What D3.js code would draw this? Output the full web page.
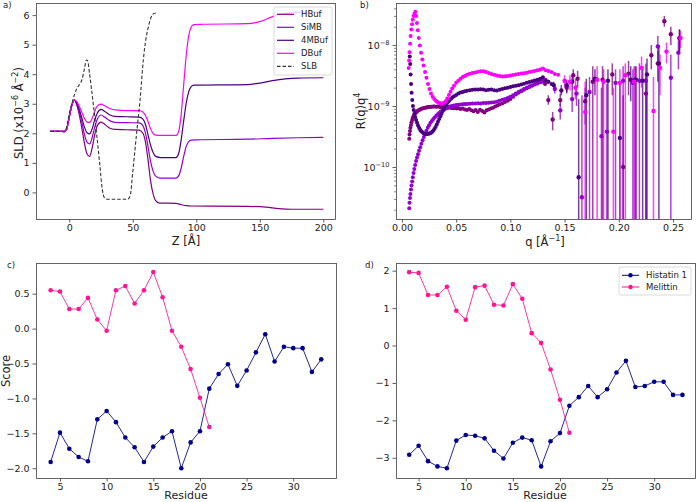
<!DOCTYPE html>
<html>
<head>
<meta charset="utf-8">
<script src="https://cdn.jsdelivr.net/npm/d3@7"></script>
<style>
  body { margin: 0; background: #fff; }
  svg text { font-family: "DejaVu Sans", sans-serif; }
</style>
</head>
<body>
<svg id="fig" width="696" height="502"></svg>
<script>
// ---------- a) SLD profiles: [z, SLD] ----------
const hbufSld = [[-15,2.07],[-8,2.07],[-4,2.06],[-2,2.15],[0,2.55],[2,2.95],[4,3.12],[6,2.95],[8,2.6],[10,2.15],[12,1.65],[14,1.3],[16,1.22],[18,1.5],[20,1.95],[22,2.25],[25,2.38],[28,2.3],[32,2.17],[36,2.13],[45,2.12],[55,2.11],[58,2.0],[60,1.7],[62,1.1],[64,0.4],[66,-0.05],[68,-0.28],[71,-0.36],[84,-0.37],[88,-0.41],[92,-0.45],[96,-0.46],[140,-0.47],[155,-0.5],[165,-0.55],[175,-0.57],[200,-0.57]];
const simbSld = [[-15,2.07],[-8,2.07],[-4,2.06],[-2,2.15],[0,2.55],[2,2.95],[4,3.12],[6,2.98],[8,2.72],[10,2.35],[12,1.95],[14,1.7],[16,1.64],[18,1.85],[20,2.2],[22,2.47],[25,2.62],[28,2.54],[32,2.42],[36,2.37],[45,2.36],[55,2.35],[58,2.25],[60,2.0],[62,1.55],[64,1.05],[66,0.72],[68,0.55],[72,0.48],[84,0.48],[86,0.55],[88,0.8],[90,1.2],[92,1.55],[94,1.72],[96,1.77],[100,1.78],[140,1.8],[160,1.83],[180,1.85],[200,1.86]];
const mbufSld = [[-15,2.07],[-8,2.07],[-4,2.06],[-2,2.15],[0,2.55],[2,2.95],[4,3.12],[6,3.02],[8,2.8],[10,2.5],[12,2.2],[14,2.02],[16,1.98],[18,2.15],[20,2.45],[22,2.68],[25,2.81],[28,2.74],[32,2.62],[36,2.57],[45,2.56],[55,2.55],[58,2.48],[60,2.3],[62,1.95],[64,1.6],[66,1.35],[68,1.22],[72,1.18],[84,1.18],[86,1.3],[88,1.75],[90,2.4],[92,3.0],[94,3.4],[96,3.58],[98,3.63],[140,3.65],[150,3.7],[160,3.78],[170,3.84],[180,3.87],[200,3.88]];
const dbufSld = [[-15,2.07],[-8,2.07],[-4,2.06],[-2,2.15],[0,2.55],[2,2.95],[4,3.12],[6,3.07],[8,2.9],[10,2.7],[12,2.5],[14,2.38],[16,2.37],[18,2.5],[20,2.75],[22,2.92],[25,2.99],[28,2.93],[32,2.84],[36,2.79],[45,2.77],[55,2.77],[58,2.72],[60,2.6],[62,2.4],[64,2.15],[66,2.0],[68,1.94],[72,1.93],[84,1.93],[86,2.05],[88,2.6],[90,3.6],[92,4.6],[94,5.3],[96,5.6],[98,5.68],[105,5.69],[140,5.71],[150,5.78],[160,5.95],[170,6.06],[180,6.1],[200,6.1]];
const slbSld = [[-15,2.07],[-5,2.07],[-3,2.1],[-1,2.45],[1,2.85],[2,3.0],[4,3.3],[6,3.52],[8,3.65],[10,3.82],[12,4.2],[13.5,4.48],[14.5,4.45],[16,4.0],[17.5,3.5],[19,2.95],[21.5,2.0],[24,0.95],[26,0.1],[27.5,-0.17],[30,-0.23],[46,-0.23],[48,-0.1],[50,0.7],[53,2.0],[55.7,3.12],[58.3,4.48],[60,5.1],[62,5.55],[64,5.88],[66,6.04],[69,6.08]];
const sldNames = ["HBuf", "SiMB", "4MBuf", "DBuf", "SLB"];

// ---------- b) reflectivity R(q)q^4: dense low-q part [q, R] ----------
const hbufRefl = [[0.0067,2.9e-10],[0.0070,3.4e-10],[0.0074,3.9e-10],[0.0078,4.4e-10],[0.0083,4.9e-10],[0.0088,5.4e-10],[0.0094,5.9e-10],[0.0100,6.4e-10],[0.0107,6.8e-10],[0.0114,7.2e-10],[0.0122,7.6e-10],[0.0130,7.9e-10],[0.0139,8.2e-10],[0.0148,8.4e-10],[0.0158,8.6e-10],[0.0168,8.8e-10],[0.0179,9.0e-10],[0.0190,9.1e-10],[0.0202,9.3e-10],[0.0214,9.4e-10],[0.0226,9.5e-10],[0.0238,9.6e-10],[0.0250,9.6e-10],[0.0263,9.7e-10],[0.0276,9.7e-10],[0.0289,9.8e-10],[0.0302,9.8e-10],[0.0316,9.7e-10],[0.0330,9.8e-10],[0.0344,9.7e-10],[0.0358,9.6e-10],[0.0372,9.7e-10],[0.0386,9.6e-10],[0.0400,9.5e-10],[0.0415,9.6e-10],[0.0430,9.4e-10],[0.0445,9.5e-10],[0.0460,9.3e-10],[0.0475,9.2e-10],[0.0490,9.4e-10],[0.0505,9.1e-10],[0.0520,9.2e-10],[0.0540,8.9e-10],[0.0560,9.1e-10],[0.0580,8.8e-10],[0.0600,8.6e-10],[0.0620,8.9e-10],[0.0640,8.5e-10],[0.0660,8.2e-10],[0.0680,8.6e-10],[0.0700,8.0e-10],[0.0720,8.7e-10],[0.0740,8.3e-10],[0.0760,7.8e-10],[0.0780,8.5e-10],[0.0800,8.8e-10],[0.0820,9.1e-10],[0.0840,9.4e-10],[0.0860,9.8e-10],[0.0880,1.02e-9],[0.0900,1.06e-9],[0.0925,1.1e-9],[0.0950,1.16e-9],[0.0975,1.22e-9],[0.1000,1.3e-9],[0.1025,1.42e-9],[0.1050,1.55e-9],[0.1075,1.65e-9],[0.1100,1.75e-9],[0.1125,1.85e-9],[0.1150,1.95e-9],[0.1175,2.05e-9],[0.1200,2.15e-9],[0.1225,2.25e-9],[0.1250,2.35e-9],[0.1275,2.45e-9],[0.1300,2.5e-9],[0.1320,2.3e-9]];
const simbRefl = [[0.0067,2.1e-11],[0.0070,2.6e-11],[0.0074,3.1e-11],[0.0078,3.6e-11],[0.0083,4.3e-11],[0.0088,5.0e-11],[0.0094,5.8e-11],[0.0100,6.8e-11],[0.0107,8.0e-11],[0.0114,9.3e-11],[0.0122,1.08e-10],[0.0130,1.25e-10],[0.0139,1.43e-10],[0.0148,1.62e-10],[0.0158,1.85e-10],[0.0168,2.1e-10],[0.0179,2.4e-10],[0.0190,2.75e-10],[0.0202,3.1e-10],[0.0214,3.5e-10],[0.0226,3.95e-10],[0.0238,4.4e-10],[0.0250,4.85e-10],[0.0263,5.3e-10],[0.0276,5.7e-10],[0.0289,6.1e-10],[0.0302,6.5e-10],[0.0316,6.9e-10],[0.0330,7.3e-10],[0.0344,7.7e-10],[0.0358,8.1e-10],[0.0372,8.4e-10],[0.0386,8.7e-10],[0.0400,9.0e-10],[0.0415,9.3e-10],[0.0430,9.6e-10],[0.0445,9.8e-10],[0.0460,1.0e-9],[0.0480,1.02e-9],[0.0500,1.04e-9],[0.0520,1.05e-9],[0.0540,1.06e-9],[0.0560,1.07e-9],[0.0580,1.08e-9],[0.0600,1.08e-9],[0.0625,1.09e-9],[0.0650,1.1e-9],[0.0675,1.1e-9],[0.0700,1.11e-9],[0.0725,1.1e-9],[0.0750,1.12e-9],[0.0775,1.12e-9],[0.0800,1.13e-9],[0.0825,1.14e-9],[0.0850,1.15e-9],[0.0875,1.18e-9],[0.0900,1.22e-9],[0.0925,1.27e-9],[0.0950,1.3e-9],[0.0975,1.35e-9],[0.1000,1.42e-9],[0.1025,1.5e-9],[0.1050,1.6e-9],[0.1075,1.7e-9],[0.1100,1.8e-9],[0.1125,1.9e-9],[0.1150,2.0e-9],[0.1175,2.1e-9],[0.1200,2.2e-9],[0.1225,2.3e-9],[0.1250,2.4e-9],[0.1275,2.5e-9],[0.1300,2.6e-9],[0.1325,2.7e-9],[0.1350,2.5e-9]];
const mbufRefl = [[0.0072,6.5e-9],[0.0076,4.9e-9],[0.0080,3.3e-9],[0.0084,2.3e-9],[0.0089,1.65e-9],[0.0095,1.25e-9],[0.0101,1.0e-9],[0.0108,8.6e-10],[0.0115,7.5e-10],[0.0122,6.6e-10],[0.0130,5.9e-10],[0.0139,5.3e-10],[0.0148,4.8e-10],[0.0158,4.4e-10],[0.0168,4.1e-10],[0.0178,3.85e-10],[0.0189,3.7e-10],[0.0200,3.58e-10],[0.0211,3.5e-10],[0.0222,3.47e-10],[0.0233,3.47e-10],[0.0244,3.5e-10],[0.0255,3.55e-10],[0.0266,3.62e-10],[0.0277,3.75e-10],[0.0288,3.95e-10],[0.0299,4.2e-10],[0.0310,4.55e-10],[0.0321,5.0e-10],[0.0332,5.5e-10],[0.0343,6.1e-10],[0.0354,6.8e-10],[0.0365,7.5e-10],[0.0376,8.3e-10],[0.0387,9.1e-10],[0.0398,9.9e-10],[0.0410,1.07e-9],[0.0422,1.15e-9],[0.0435,1.22e-9],[0.0450,1.3e-9],[0.0465,1.38e-9],[0.0480,1.45e-9],[0.0500,1.52e-9],[0.0520,1.6e-9],[0.0540,1.66e-9],[0.0560,1.7e-9],[0.0580,1.74e-9],[0.0600,1.78e-9],[0.0625,1.82e-9],[0.0650,1.84e-9],[0.0675,1.86e-9],[0.0700,1.86e-9],[0.0725,1.88e-9],[0.0750,1.86e-9],[0.0775,1.82e-9],[0.0800,1.84e-9],[0.0825,1.86e-9],[0.0850,1.82e-9],[0.0875,1.8e-9],[0.0900,1.84e-9],[0.0925,1.9e-9],[0.0950,1.95e-9],[0.0975,2.0e-9],[0.1000,2.05e-9],[0.1025,2.1e-9],[0.1050,2.15e-9],[0.1075,2.2e-9],[0.1100,2.25e-9],[0.1125,2.32e-9],[0.1150,2.4e-9],[0.1175,2.48e-9],[0.1200,2.55e-9],[0.1225,2.62e-9],[0.1250,2.7e-9],[0.1275,2.8e-9],[0.1300,2.95e-9],[0.1325,2.6e-9],[0.1350,2.5e-9],[0.1380,2.3e-9]];
const dbufRefl = [[0.0062,4.2e-9],[0.0066,5.6e-9],[0.0070,7.6e-9],[0.0075,1.05e-8],[0.0080,1.4e-8],[0.0086,1.8e-8],[0.0093,2.2e-8],[0.0100,2.6e-8],[0.0108,3.0e-8],[0.0116,3.3e-8],[0.0124,3.5e-8],[0.0131,3.0e-8],[0.0138,2.3e-8],[0.0146,1.75e-8],[0.0155,1.3e-8],[0.0165,9.8e-9],[0.0176,7.5e-9],[0.0188,5.8e-9],[0.0200,4.6e-9],[0.0213,3.6e-9],[0.0226,2.9e-9],[0.0240,2.3e-9],[0.0254,1.9e-9],[0.0268,1.6e-9],[0.0283,1.42e-9],[0.0298,1.3e-9],[0.0313,1.22e-9],[0.0328,1.16e-9],[0.0343,1.12e-9],[0.0358,1.1e-9],[0.0373,1.1e-9],[0.0388,1.13e-9],[0.0403,1.2e-9],[0.0418,1.33e-9],[0.0433,1.52e-9],[0.0448,1.72e-9],[0.0463,1.93e-9],[0.0480,2.15e-9],[0.0500,2.4e-9],[0.0520,2.6e-9],[0.0540,2.8e-9],[0.0560,2.98e-9],[0.0580,3.12e-9],[0.0600,3.25e-9],[0.0625,3.38e-9],[0.0650,3.48e-9],[0.0675,3.56e-9],[0.0700,3.64e-9],[0.0725,3.7e-9],[0.0750,3.7e-9],[0.0775,3.6e-9],[0.0800,3.48e-9],[0.0825,3.36e-9],[0.0850,3.26e-9],[0.0875,3.18e-9],[0.0900,3.1e-9],[0.0925,3.06e-9],[0.0950,3.08e-9],[0.0975,3.1e-9],[0.1000,3.18e-9],[0.1025,3.22e-9],[0.1050,3.28e-9],[0.1075,3.34e-9],[0.1100,3.4e-9],[0.1125,3.46e-9],[0.1150,3.52e-9],[0.1175,3.6e-9],[0.1200,3.68e-9],[0.1225,3.76e-9],[0.1250,3.86e-9],[0.1275,3.98e-9],[0.1300,4.12e-9],[0.1325,3.85e-9],[0.1350,3.75e-9],[0.1380,3.62e-9],[0.1410,3.35e-9],[0.1440,3.25e-9]];

// sparse high-q part with error bars: [q, R, lower, upper]  (lower 0 = bar runs off the bottom)
const hbufHiQ = [[0.135,1.25e-9,1.05e-9,1.5e-9],[0.139,6.0e-10,4e-10,8e-10],[0.146,1.25e-9,1.0e-9,1.6e-9],[0.152,2.0e-9,1.6e-9,2.5e-9],[0.158,3.2e-9,2.5e-9,4e-9],[0.162,2.8e-9,2e-9,3.8e-9],[0.169,1.2e-9,5e-10,2e-9],[0.176,2.5e-9,0,4.5e-9],[0.185,2.7e-9,0,4.5e-9],[0.194,3.3e-9,1.5e-9,5e-9],[0.204,1.0e-10,0,1.5e-9],[0.209,3.4e-9,1.5e-9,5.5e-9],[0.216,2.7e-9,0,4.5e-9],[0.225,1.6e-9,0,3e-9],[0.230,6.8e-9,4e-9,1e-8],[0.236,5e-9,2.5e-9,8e-9],[0.242,2.45e-8,2e-8,3e-8],[0.248,1.5e-8,1e-8,2e-8],[0.256,1.3e-8,8e-9,1.8e-8]];
const simbHiQ = [[0.141,1.9e-9,1.6e-9,2.2e-9],[0.146,8.5e-10,6e-10,1.1e-9],[0.157,1.3e-9,8e-10,1.8e-9],[0.161,1.6e-9,1e-9,2.2e-9],[0.166,3.2e-11,0,1.5e-9],[0.173,1.7e-9,0,3e-9],[0.184,3.2e-10,0,2e-9],[0.189,3.8e-10,0,2.3e-9],[0.197,2.4e-9,0,4e-9],[0.204,2.6e-9,0,4.5e-9],[0.213,2.4e-9,0,4e-9],[0.219,2.6e-9,0,5e-9],[0.225,2.6e-9,0,5e-9],[0.236,9.5e-9,5e-9,1.4e-8],[0.248,2.9e-9,0,7e-9],[0.255,7.5e-9,4e-9,1.2e-8]];
const mbufHiQ = [[0.140,2.2e-9,1.9e-9,2.5e-9],[0.147,1.8e-9,1.5e-9,2.2e-9],[0.152,2.2e-9,1.7e-9,2.7e-9],[0.157,2.5e-9,1.8e-9,3.2e-9],[0.163,6.8e-11,0,1.3e-9],[0.170,1.5e-9,0,2.8e-9],[0.178,2.8e-9,1.5e-9,4e-9],[0.190,2.6e-9,0,4e-9],[0.201,3.0e-10,0,2.5e-9],[0.211,2.7e-9,1.2e-9,4.5e-9],[0.215,2.7e-9,0,4.5e-9],[0.222,2.6e-9,0,4.5e-9],[0.226,3.3e-9,0,6e-9],[0.237,5.0e-9,0,1e-8],[0.256,1.3e-8,8e-9,1.8e-8]];
const dbufHiQ = [[0.150,2.6e-9,2e-9,3.2e-9],[0.155,2.5e-9,1.8e-9,3.2e-9],[0.160,2.0e-9,1.3e-9,2.8e-9],[0.169,8.0e-10,0,2.5e-9],[0.180,2.7e-9,0,4.5e-9],[0.186,2.5e-9,0,4e-9],[0.195,3.8e-10,0,2e-9],[0.201,2.4e-9,0,4e-9],[0.206,3.2e-9,0,5e-9],[0.214,2.5e-9,0,4.5e-9],[0.221,4.2e-9,2e-9,6.5e-9],[0.232,8.3e-10,0,3e-9],[0.238,4.2e-9,1.5e-9,7e-9],[0.244,7.8e-9,5e-9,1.1e-8],[0.257,1.3e-8,9e-9,1.7e-8]];

// ---------- c), d) per-residue scores ----------
const histatinResidues = [4,5,6,7,8,9,10,11,12,13,14,15,16,17,18,19,20,21,22,23,24,25,26,27,28,29,30,31,32,33];
const melittinResidues = [4,5,6,7,8,9,10,11,12,13,14,15,16,17,18,19,20,21];
const histatinScoreC = [-1.91,-1.49,-1.72,-1.84,-1.90,-1.30,-1.18,-1.34,-1.56,-1.70,-1.91,-1.69,-1.56,-1.47,-2.00,-1.63,-1.47,-0.86,-0.65,-0.51,-0.82,-0.60,-0.34,-0.08,-0.47,-0.26,-0.28,-0.28,-0.62,-0.44];
const melittinScoreC = [0.55,0.53,0.28,0.28,0.44,0.13,-0.03,0.55,0.61,0.36,0.55,0.81,0.45,-0.03,-0.26,-0.58,-0.99,-1.41];
const histatinScoreD = [-2.92,-2.68,-3.09,-3.23,-3.28,-2.54,-2.39,-2.41,-2.48,-2.81,-3.02,-2.60,-2.46,-2.53,-3.23,-2.56,-2.34,-1.61,-1.38,-1.08,-1.38,-1.17,-0.72,-0.41,-1.11,-1.08,-0.97,-0.97,-1.32,-1.32];
const melittinScoreD = [1.96,1.94,1.35,1.35,1.57,0.93,0.69,1.56,1.60,1.09,1.07,1.64,1.25,0.33,0.07,-0.64,-1.45,-2.33];
const peptideNames = ["Histatin 1", "Melittin"];

// ---------- styling ----------
const colors = { HBuf: "#800080", SiMB: "#9400d3", "4MBuf": "#4b0082", DBuf: "#ff00ff", SLB: "#333333",
                 "Histatin 1": "#00008b", Melittin: "#ff1493" };
const FONT = '"DejaVu Sans", sans-serif';
const tickSize = 9.5, labelSize = 11.5, legendSize = 8.5;

const svg = d3.select("#fig");
let clipN = 0;

function makePanel(box, x, y) {
    x.range([box.l, box.r]);
    y.range([box.b, box.t]);
    const id = "clip" + (clipN++);
    svg.append("clipPath").attr("id", id).append("rect")
        .attr("x", box.l).attr("y", box.t).attr("width", box.r - box.l).attr("height", box.b - box.t);
    const g = svg.append("g");
    const plot = g.append("g").attr("clip-path", `url(#${id})`);
    return { box, x, y, g, plot };
}

function styleAxis(sel) {
    sel.select(".domain").remove();
    sel.attr("font-family", FONT).attr("font-size", tickSize);
    sel.selectAll(".tick line").attr("stroke", "#333").attr("stroke-width", 0.8);
    sel.selectAll(".tick text").attr("fill", "#222");
}

function xAxis(p, ticks, fmt) {
    return p.g.append("g").attr("transform", `translate(0,${p.box.b})`)
        .call(d3.axisBottom(p.x).tickValues(ticks).tickFormat(fmt).tickSize(3.5).tickPadding(1.5))
        .call(styleAxis);
}

function yAxis(p, ticks, fmt) {
    return p.g.append("g").attr("transform", `translate(${p.box.l},0)`)
        .call(d3.axisLeft(p.y).tickValues(ticks).tickFormat(fmt).tickSize(3.5).tickPadding(3))
        .call(styleAxis);
}

function frame(p) {
    p.g.append("rect")
        .attr("x", p.box.l + 0.5).attr("y", p.box.t + 0.5)
        .attr("width", p.box.r - p.box.l).attr("height", p.box.b - p.box.t)
        .attr("fill", "none").attr("stroke", "#555").attr("stroke-width", 0.9);
}

// text with superscript parts: [[text, isSup], ...]
function richText(sel, parts, size) {
    let up = false;
    parts.forEach(([s, sup]) => {
        const t = sel.append("tspan").text(s);
        if (sup) {
            t.attr("font-size", size * 0.7);
            if (!up) { t.attr("dy", -0.4 * size); up = true; }
        } else if (up) {
            t.attr("dy", 0.4 * size); up = false;
        }
    });
}

function label(x, y, parts, rotate, size) {
    const t = svg.append("text")
        .attr("transform", `translate(${x},${y})` + (rotate ? " rotate(-90)" : ""))
        .attr("text-anchor", "middle").attr("font-size", size || labelSize).attr("fill", "#222");
    richText(t, parts, size || labelSize);
    return t;
}

function panelTag(x, y, s) {
    svg.append("text").attr("x", x).attr("y", y).attr("font-size", 8.5).attr("fill", "#222").text(s);
}

// ================= a) =================
const pa = makePanel({ l: 36, r: 335, t: 3, b: 219 },
    d3.scaleLinear().domain([-26.2, 209.2]), d3.scaleLinear().domain([-0.9, 6.41]));

const sldLine = d3.line().x(d => pa.x(d[0])).y(d => pa.y(d[1])).curve(d3.curveMonotoneX);
const sldSeries = [hbufSld, simbSld, mbufSld, dbufSld, slbSld];
sldSeries.forEach((arr, i) => {
    const name = sldNames[i];
    pa.plot.append("path").attr("d", sldLine(arr))
        .attr("fill", "none").attr("stroke", colors[name])
        .attr("stroke-width", name === "SLB" ? 1.1 : 1.2)
        .attr("stroke-dasharray", name === "SLB" ? "3.5,2" : null);
});
xAxis(pa, [0, 50, 100, 150, 200], d3.format("d"));
yAxis(pa, [0, 1, 2, 3, 4, 5, 6], d3.format("d"));
frame(pa);

// legend a
const legA = pa.g.append("g");
legA.append("rect").attr("x", 274).attr("y", 7).attr("width", 58).attr("height", 68).attr("rx", 2)
    .attr("fill", "#fff").attr("fill-opacity", 0.8).attr("stroke", "#d0d0d0").attr("stroke-width", 0.8);
sldNames.forEach((name, i) => {
    const yy = 14.3 + i * 13;
    legA.append("line").attr("x1", 277).attr("x2", 294).attr("y1", yy).attr("y2", yy)
        .attr("stroke", colors[name]).attr("stroke-width", 1.2)
        .attr("stroke-dasharray", name === "SLB" ? "3.5,2" : null);
    legA.append("text").attr("x", 301).attr("y", yy + 3).attr("font-size", legendSize).attr("fill", "#222").text(name);
});

label(23, 113, [["SLD (x10", false], ["−6", true], [" Å", false], ["−2", true], [")", false]], true);
label(186, 244.5, [["Z [Å]", false]]);
panelTag(3, 8, "a)");

// ================= b) =================
const pb = makePanel({ l: 396, r: 691, t: 3, b: 219 },
    d3.scaleLinear().domain([-0.0055, 0.2666]), d3.scaleLog().domain([Math.pow(10, -10.852), Math.pow(10, -7.311)]));

const reflNames = ["HBuf", "SiMB", "4MBuf", "DBuf"];
const reflDense = [hbufRefl, simbRefl, mbufRefl, dbufRefl];
const reflSparse = [hbufHiQ, simbHiQ, mbufHiQ, dbufHiQ];

reflSparse.forEach((arr, i) => {
    pb.plot.selectAll(null).data(arr).join("line")
        .attr("x1", d => pb.x(d[0])).attr("x2", d => pb.x(d[0]))
        .attr("y1", d => d[2] > 0 ? pb.y(d[2]) : pb.box.b + 5)
        .attr("y2", d => pb.y(d[3]))
        .attr("stroke", colors[reflNames[i]]).attr("stroke-width", 1.5).attr("stroke-opacity", 0.75);
});
reflDense.forEach((arr, i) => {
    pb.plot.selectAll(null).data(arr).join("circle")
        .attr("cx", d => pb.x(d[0])).attr("cy", d => pb.y(d[1])).attr("r", 2)
        .attr("fill", colors[reflNames[i]]);
});
reflSparse.forEach((arr, i) => {
    pb.plot.selectAll(null).data(arr).join("circle")
        .attr("cx", d => pb.x(d[0])).attr("cy", d => pb.y(d[1])).attr("r", 2.2)
        .attr("fill", colors[reflNames[i]]);
});

xAxis(pb, [0, 0.05, 0.1, 0.15, 0.2, 0.25], d3.format(".2f"));
const yb = yAxis(pb, [1e-10, 1e-9, 1e-8], () => "");
yb.selectAll(".tick text").each(function (d) {
    const t = d3.select(this);
    richText(t, [["10", false], ["−" + Math.abs(Math.round(Math.log10(d))), true]], tickSize);
});
// minor log ticks
const minorTicks = [];
[-11, -10, -9, -8].forEach(k => [2, 3, 4, 5, 6, 7, 8, 9].forEach(m => {
    const v = m * Math.pow(10, k);
    if (v > pb.y.domain()[0] && v < pb.y.domain()[1]) minorTicks.push(v);
}));
pb.g.selectAll(null).data(minorTicks).join("line")
    .attr("x1", pb.box.l - 2).attr("x2", pb.box.l)
    .attr("y1", d => pb.y(d) + 0.5).attr("y2", d => pb.y(d) + 0.5)
    .attr("stroke", "#333").attr("stroke-width", 0.6);
frame(pb);

label(365, 111, [["R(q)q", false], ["4", true]], true);
label(545, 245.5, [["q [Å", false], ["−1", true], ["]", false]]);
panelTag(360, 8, "b)");

// ================= c) and d) =================
function scorePanel(box, xDomain, yDomain, yTicks, yFmt, his, mel, withLegend) {
    const p = makePanel(box, d3.scaleLinear().domain(xDomain), d3.scaleLinear().domain(yDomain));
    const line = d3.line().x(d => p.x(d[0])).y(d => p.y(d[1]));
    const series = [[peptideNames[0], d3.zip(histatinResidues, his)], [peptideNames[1], d3.zip(melittinResidues, mel)]];
    series.forEach(([name, pts]) => {
        p.plot.append("path").attr("d", line(pts)).attr("fill", "none")
            .attr("stroke", colors[name]).attr("stroke-width", 1).attr("stroke-opacity", 0.85);
        p.plot.selectAll(null).data(pts).join("circle")
            .attr("cx", d => p.x(d[0])).attr("cy", d => p.y(d[1])).attr("r", 2.3)
            .attr("fill", colors[name]);
    });
    xAxis(p, [5, 10, 15, 20, 25, 30], d3.format("d"));
    yAxis(p, yTicks, yFmt);
    frame(p);
    if (withLegend) {
        const lg = p.g.append("g");
        lg.append("rect").attr("x", 619).attr("y", 267).attr("width", 72).attr("height", 28).attr("rx", 2)
            .attr("fill", "#fff").attr("fill-opacity", 0.8).attr("stroke", "#d0d0d0").attr("stroke-width", 0.8);
        series.forEach(([name], i) => {
            const yy = 275.3 + i * 11.7;
            lg.append("line").attr("x1", 622).attr("x2", 639).attr("y1", yy).attr("y2", yy)
                .attr("stroke", colors[name]).attr("stroke-width", 1);
            lg.append("circle").attr("cx", 630.5).attr("cy", yy).attr("r", 2.2).attr("fill", colors[name]);
            lg.append("text").attr("x", 646).attr("y", yy + 3).attr("font-size", legendSize).attr("fill", "#222").text(name);
        });
    }
    return p;
}

scorePanel({ l: 36, r: 336, t: 263, b: 478 }, [2.43, 34.58], [-2.14, 0.94], [-2, -1.5, -1, -0.5, 0, 0.5], d3.format(".1f"),
    histatinScoreC, melittinScoreC, false);
scorePanel({ l: 396, r: 695, t: 263, b: 478 }, [2.6, 34.33], [-3.54, 2.205], [-3, -2, -1, 0, 1, 2], d3.format("d"),
    histatinScoreD, melittinScoreD, true);

label(10, 371, [["Score", false]], true);
label(186, 499.3, [["Residue", false]], false, 11);
label(545, 499.3, [["Residue", false]], false, 11);
panelTag(7, 268, "c)");
panelTag(365, 268, "d)");
</script>
</body>
</html>
